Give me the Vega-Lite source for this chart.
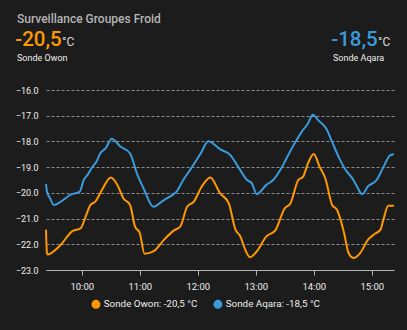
{
  "$schema": "https://vega.github.io/schema/vega-lite/v6.json",
  "width": 348,
  "height": 180,
  "autosize": {"type": "none"},
  "padding": {"left": 46, "top": 90, "right": 13, "bottom": 60},
  "background": "#1c1c1c",
  "config": {"view": {"stroke": null}, "font": "Roboto"},
  "data": {
    "values": [
      {"t": "2024-05-01T09:23:00", "v": -21.43, "s": "Sonde Owon: -20,5 °C"},
      {"t": "2024-05-01T09:24:00", "v": -22.35, "s": "Sonde Owon: -20,5 °C"},
      {"t": "2024-05-01T09:25:00", "v": -22.4, "s": "Sonde Owon: -20,5 °C"},
      {"t": "2024-05-01T09:28:00", "v": -22.35, "s": "Sonde Owon: -20,5 °C"},
      {"t": "2024-05-01T09:38:00", "v": -22.03, "s": "Sonde Owon: -20,5 °C"},
      {"t": "2024-05-01T09:50:00", "v": -21.5, "s": "Sonde Owon: -20,5 °C"},
      {"t": "2024-05-01T09:59:00", "v": -21.37, "s": "Sonde Owon: -20,5 °C"},
      {"t": "2024-05-01T10:04:00", "v": -20.92, "s": "Sonde Owon: -20,5 °C"},
      {"t": "2024-05-01T10:09:00", "v": -20.47, "s": "Sonde Owon: -20,5 °C"},
      {"t": "2024-05-01T10:14:00", "v": -20.34, "s": "Sonde Owon: -20,5 °C"},
      {"t": "2024-05-01T10:21:00", "v": -19.88, "s": "Sonde Owon: -20,5 °C"},
      {"t": "2024-05-01T10:30:00", "v": -19.4, "s": "Sonde Owon: -20,5 °C"},
      {"t": "2024-05-01T10:37:00", "v": -19.7, "s": "Sonde Owon: -20,5 °C"},
      {"t": "2024-05-01T10:43:00", "v": -20.21, "s": "Sonde Owon: -20,5 °C"},
      {"t": "2024-05-01T10:50:00", "v": -20.47, "s": "Sonde Owon: -20,5 °C"},
      {"t": "2024-05-01T10:55:00", "v": -21.3, "s": "Sonde Owon: -20,5 °C"},
      {"t": "2024-05-01T11:00:00", "v": -21.56, "s": "Sonde Owon: -20,5 °C"},
      {"t": "2024-05-01T11:05:00", "v": -22.37, "s": "Sonde Owon: -20,5 °C"},
      {"t": "2024-05-01T11:14:00", "v": -22.28, "s": "Sonde Owon: -20,5 °C"},
      {"t": "2024-05-01T11:25:00", "v": -21.83, "s": "Sonde Owon: -20,5 °C"},
      {"t": "2024-05-01T11:35:00", "v": -21.47, "s": "Sonde Owon: -20,5 °C"},
      {"t": "2024-05-01T11:42:00", "v": -21.3, "s": "Sonde Owon: -20,5 °C"},
      {"t": "2024-05-01T11:49:00", "v": -20.54, "s": "Sonde Owon: -20,5 °C"},
      {"t": "2024-05-01T11:56:00", "v": -20.34, "s": "Sonde Owon: -20,5 °C"},
      {"t": "2024-05-01T12:04:00", "v": -19.76, "s": "Sonde Owon: -20,5 °C"},
      {"t": "2024-05-01T12:13:00", "v": -19.4, "s": "Sonde Owon: -20,5 °C"},
      {"t": "2024-05-01T12:23:00", "v": -20.01, "s": "Sonde Owon: -20,5 °C"},
      {"t": "2024-05-01T12:32:00", "v": -20.4, "s": "Sonde Owon: -20,5 °C"},
      {"t": "2024-05-01T12:39:00", "v": -21.43, "s": "Sonde Owon: -20,5 °C"},
      {"t": "2024-05-01T12:44:00", "v": -21.69, "s": "Sonde Owon: -20,5 °C"},
      {"t": "2024-05-01T12:49:00", "v": -22.2, "s": "Sonde Owon: -20,5 °C"},
      {"t": "2024-05-01T12:54:00", "v": -22.5, "s": "Sonde Owon: -20,5 °C"},
      {"t": "2024-05-01T13:01:00", "v": -22.28, "s": "Sonde Owon: -20,5 °C"},
      {"t": "2024-05-01T13:11:00", "v": -21.69, "s": "Sonde Owon: -20,5 °C"},
      {"t": "2024-05-01T13:20:00", "v": -21.47, "s": "Sonde Owon: -20,5 °C"},
      {"t": "2024-05-01T13:30:00", "v": -20.6, "s": "Sonde Owon: -20,5 °C"},
      {"t": "2024-05-01T13:36:00", "v": -20.4, "s": "Sonde Owon: -20,5 °C"},
      {"t": "2024-05-01T13:44:00", "v": -19.5, "s": "Sonde Owon: -20,5 °C"},
      {"t": "2024-05-01T13:49:00", "v": -19.37, "s": "Sonde Owon: -20,5 °C"},
      {"t": "2024-05-01T13:54:00", "v": -18.85, "s": "Sonde Owon: -20,5 °C"},
      {"t": "2024-05-01T14:00:00", "v": -18.49, "s": "Sonde Owon: -20,5 °C"},
      {"t": "2024-05-01T14:06:00", "v": -18.98, "s": "Sonde Owon: -20,5 °C"},
      {"t": "2024-05-01T14:12:00", "v": -19.44, "s": "Sonde Owon: -20,5 °C"},
      {"t": "2024-05-01T14:19:00", "v": -20.47, "s": "Sonde Owon: -20,5 °C"},
      {"t": "2024-05-01T14:24:00", "v": -20.66, "s": "Sonde Owon: -20,5 °C"},
      {"t": "2024-05-01T14:31:00", "v": -21.5, "s": "Sonde Owon: -20,5 °C"},
      {"t": "2024-05-01T14:36:00", "v": -22.34, "s": "Sonde Owon: -20,5 °C"},
      {"t": "2024-05-01T14:41:00", "v": -22.53, "s": "Sonde Owon: -20,5 °C"},
      {"t": "2024-05-01T14:48:00", "v": -22.34, "s": "Sonde Owon: -20,5 °C"},
      {"t": "2024-05-01T14:56:00", "v": -21.83, "s": "Sonde Owon: -20,5 °C"},
      {"t": "2024-05-01T15:03:00", "v": -21.6, "s": "Sonde Owon: -20,5 °C"},
      {"t": "2024-05-01T15:09:00", "v": -21.43, "s": "Sonde Owon: -20,5 °C"},
      {"t": "2024-05-01T15:12:00", "v": -21.05, "s": "Sonde Owon: -20,5 °C"},
      {"t": "2024-05-01T15:17:00", "v": -20.5, "s": "Sonde Owon: -20,5 °C"},
      {"t": "2024-05-01T15:23:00", "v": -20.5, "s": "Sonde Owon: -20,5 °C"},
      {"t": "2024-05-01T09:23:00", "v": -19.65, "s": "Sonde Aqara: -18,5 °C"},
      {"t": "2024-05-01T09:24:00", "v": -19.95, "s": "Sonde Aqara: -18,5 °C"},
      {"t": "2024-05-01T09:27:00", "v": -20.2, "s": "Sonde Aqara: -18,5 °C"},
      {"t": "2024-05-01T09:31:00", "v": -20.47, "s": "Sonde Aqara: -18,5 °C"},
      {"t": "2024-05-01T09:38:00", "v": -20.35, "s": "Sonde Aqara: -18,5 °C"},
      {"t": "2024-05-01T09:48:00", "v": -20.08, "s": "Sonde Aqara: -18,5 °C"},
      {"t": "2024-05-01T09:58:00", "v": -19.95, "s": "Sonde Aqara: -18,5 °C"},
      {"t": "2024-05-01T10:02:00", "v": -19.5, "s": "Sonde Aqara: -18,5 °C"},
      {"t": "2024-05-01T10:06:00", "v": -19.3, "s": "Sonde Aqara: -18,5 °C"},
      {"t": "2024-05-01T10:11:00", "v": -18.99, "s": "Sonde Aqara: -18,5 °C"},
      {"t": "2024-05-01T10:15:00", "v": -18.8, "s": "Sonde Aqara: -18,5 °C"},
      {"t": "2024-05-01T10:19:00", "v": -18.47, "s": "Sonde Aqara: -18,5 °C"},
      {"t": "2024-05-01T10:25:00", "v": -18.25, "s": "Sonde Aqara: -18,5 °C"},
      {"t": "2024-05-01T10:31:00", "v": -17.9, "s": "Sonde Aqara: -18,5 °C"},
      {"t": "2024-05-01T10:40:00", "v": -18.2, "s": "Sonde Aqara: -18,5 °C"},
      {"t": "2024-05-01T10:50:00", "v": -18.47, "s": "Sonde Aqara: -18,5 °C"},
      {"t": "2024-05-01T10:57:00", "v": -19.24, "s": "Sonde Aqara: -18,5 °C"},
      {"t": "2024-05-01T11:04:00", "v": -19.83, "s": "Sonde Aqara: -18,5 °C"},
      {"t": "2024-05-01T11:14:00", "v": -20.54, "s": "Sonde Aqara: -18,5 °C"},
      {"t": "2024-05-01T11:25:00", "v": -20.28, "s": "Sonde Aqara: -18,5 °C"},
      {"t": "2024-05-01T11:35:00", "v": -20.05, "s": "Sonde Aqara: -18,5 °C"},
      {"t": "2024-05-01T11:38:00", "v": -19.95, "s": "Sonde Aqara: -18,5 °C"},
      {"t": "2024-05-01T11:45:00", "v": -19.5, "s": "Sonde Aqara: -18,5 °C"},
      {"t": "2024-05-01T11:54:00", "v": -19.0, "s": "Sonde Aqara: -18,5 °C"},
      {"t": "2024-05-01T12:03:00", "v": -18.47, "s": "Sonde Aqara: -18,5 °C"},
      {"t": "2024-05-01T12:11:00", "v": -17.99, "s": "Sonde Aqara: -18,5 °C"},
      {"t": "2024-05-01T12:23:00", "v": -18.3, "s": "Sonde Aqara: -18,5 °C"},
      {"t": "2024-05-01T12:34:00", "v": -18.54, "s": "Sonde Aqara: -18,5 °C"},
      {"t": "2024-05-01T12:42:00", "v": -19.0, "s": "Sonde Aqara: -18,5 °C"},
      {"t": "2024-05-01T12:51:00", "v": -19.5, "s": "Sonde Aqara: -18,5 °C"},
      {"t": "2024-05-01T12:56:00", "v": -19.63, "s": "Sonde Aqara: -18,5 °C"},
      {"t": "2024-05-01T13:01:00", "v": -20.05, "s": "Sonde Aqara: -18,5 °C"},
      {"t": "2024-05-01T13:11:00", "v": -19.69, "s": "Sonde Aqara: -18,5 °C"},
      {"t": "2024-05-01T13:18:00", "v": -19.5, "s": "Sonde Aqara: -18,5 °C"},
      {"t": "2024-05-01T13:27:00", "v": -19.0, "s": "Sonde Aqara: -18,5 °C"},
      {"t": "2024-05-01T13:34:00", "v": -18.5, "s": "Sonde Aqara: -18,5 °C"},
      {"t": "2024-05-01T13:41:00", "v": -18.02, "s": "Sonde Aqara: -18,5 °C"},
      {"t": "2024-05-01T13:48:00", "v": -17.6, "s": "Sonde Aqara: -18,5 °C"},
      {"t": "2024-05-01T13:54:00", "v": -17.3, "s": "Sonde Aqara: -18,5 °C"},
      {"t": "2024-05-01T13:59:00", "v": -16.96, "s": "Sonde Aqara: -18,5 °C"},
      {"t": "2024-05-01T14:05:00", "v": -17.19, "s": "Sonde Aqara: -18,5 °C"},
      {"t": "2024-05-01T14:13:00", "v": -17.51, "s": "Sonde Aqara: -18,5 °C"},
      {"t": "2024-05-01T14:19:00", "v": -18.02, "s": "Sonde Aqara: -18,5 °C"},
      {"t": "2024-05-01T14:25:00", "v": -18.54, "s": "Sonde Aqara: -18,5 °C"},
      {"t": "2024-05-01T14:32:00", "v": -19.05, "s": "Sonde Aqara: -18,5 °C"},
      {"t": "2024-05-01T14:41:00", "v": -19.5, "s": "Sonde Aqara: -18,5 °C"},
      {"t": "2024-05-01T14:44:00", "v": -19.7, "s": "Sonde Aqara: -18,5 °C"},
      {"t": "2024-05-01T14:50:00", "v": -20.05, "s": "Sonde Aqara: -18,5 °C"},
      {"t": "2024-05-01T14:56:00", "v": -19.75, "s": "Sonde Aqara: -18,5 °C"},
      {"t": "2024-05-01T15:05:00", "v": -19.5, "s": "Sonde Aqara: -18,5 °C"},
      {"t": "2024-05-01T15:12:00", "v": -19.0, "s": "Sonde Aqara: -18,5 °C"},
      {"t": "2024-05-01T15:19:00", "v": -18.54, "s": "Sonde Aqara: -18,5 °C"},
      {"t": "2024-05-01T15:23:00", "v": -18.5, "s": "Sonde Aqara: -18,5 °C"}
    ]
  },
  "layer": [
    {
      "mark": {"type": "line", "interpolate": "monotone", "strokeWidth": 2},
      "encoding": {
        "x": {
          "field": "t", "type": "temporal",
          "scale": {"domain": [
            {"year": 2024, "month": 5, "date": 1, "hours": 9, "minutes": 23},
            {"year": 2024, "month": 5, "date": 1, "hours": 15, "minutes": 23}
          ]},
          "axis": {
            "title": null, "format": "%H:%M", "tickCount": 6,
            "grid": false, "domainColor": "#b5b5b5", "tickColor": "#b5b5b5",
            "tickSize": 5, "labelPadding": 6, "labelColor": "#eeeeee",
            "labelFontSize": 9.5
          }
        },
        "y": {
          "field": "v", "type": "quantitative",
          "scale": {"domain": [-23, -16], "nice": false, "zero": false},
          "axis": {
            "title": null, "values": [-23, -22, -21, -20, -19, -18, -17, -16],
            "format": ".1f", "domain": false, "ticks": false, "labelPadding": 8,
            "labelColor": "#eeeeee", "labelFontSize": 9,
            "grid": true, "gridColor": "#8c8c8c", "gridDash": [3, 2], "gridWidth": 1
          }
        },
        "color": {
          "field": "s", "type": "nominal",
          "scale": {"domain": ["Sonde Owon: -20,5 °C", "Sonde Aqara: -18,5 °C"], "range": ["#ff9800", "#3a9bdc"]},
          "legend": {
            "orient": "none", "legendX": 45, "legendY": 209, "direction": "horizontal",
            "title": null, "symbolType": "circle", "symbolSize": 20, "symbolStrokeWidth": 4.5,
            "labelColor": "#eeeeee", "labelFontSize": 9.8,
            "labelOffset": 3, "columnPadding": 8
          }
        }
      }
    },
    {
      "data": {"values": [{}]},
      "mark": {"type": "text", "text": "Surveillance Groupes Froid", "align": "left", "baseline": "alphabetic", "fontSize": 12, "fontWeight": 500, "color": "#b5b5b5"},
      "encoding": {"x": {"value": -29}, "y": {"value": -67.5}}
    },
    {
      "data": {"values": [{}]},
      "mark": {"type": "text", "text": "-20,5", "align": "right", "baseline": "alphabetic", "fontSize": 20.5, "fontWeight": 500, "color": "#ff9800"},
      "encoding": {"x": {"value": 15.7}, "y": {"value": -44.5}}
    },
    {
      "data": {"values": [{}]},
      "mark": {"type": "text", "text": "°C", "align": "left", "baseline": "alphabetic", "fontSize": 12, "color": "#d8d8d8"},
      "encoding": {"x": {"value": 16}, "y": {"value": -44.5}}
    },
    {
      "data": {"values": [{}]},
      "mark": {"type": "text", "text": "Sonde Owon", "align": "left", "baseline": "alphabetic", "fontSize": 9, "color": "#eeeeee"},
      "encoding": {"x": {"value": -29}, "y": {"value": -29.5}}
    },
    {
      "data": {"values": [{}]},
      "mark": {"type": "text", "text": "-18,5", "align": "right", "baseline": "alphabetic", "fontSize": 20.5, "fontWeight": 500, "color": "#3a9bdc"},
      "encoding": {"x": {"value": 331.7}, "y": {"value": -44.5}}
    },
    {
      "data": {"values": [{}]},
      "mark": {"type": "text", "text": "°C", "align": "left", "baseline": "alphabetic", "fontSize": 12, "color": "#d8d8d8"},
      "encoding": {"x": {"value": 332}, "y": {"value": -44.5}}
    },
    {
      "data": {"values": [{}]},
      "mark": {"type": "text", "text": "Sonde Aqara", "align": "left", "baseline": "alphabetic", "fontSize": 9, "color": "#eeeeee"},
      "encoding": {"x": {"value": 287}, "y": {"value": -29.5}}
    }
  ]
}
